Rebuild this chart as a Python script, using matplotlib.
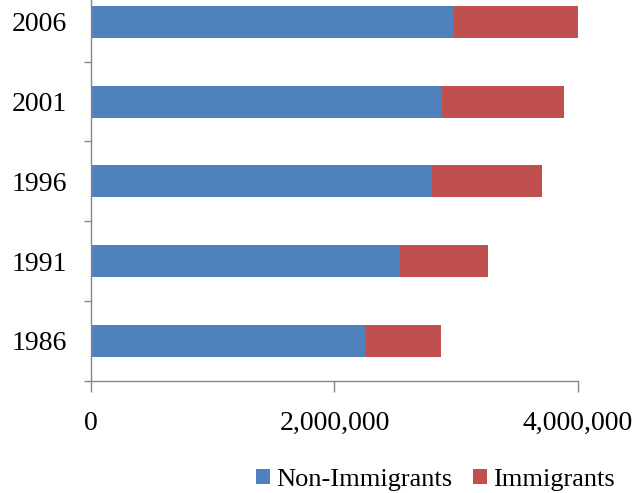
import numpy as np
import matplotlib
matplotlib.use("Agg")
from matplotlib import pyplot as plt

years = ["1986", "1991", "1996", "2001", "2006"]
non_immigrants = [2250000, 2540000, 2800000, 2887000, 2980000]
immigrants = [624000, 722000, 905000, 1000000, 1020000]

blue = "#4F81BD"
red = "#C0504D"
axis_grey = "#868686"

plt.rcParams["font.family"] = ["Liberation Serif", "DejaVu Serif"]

fig = plt.figure(figsize=(6.35, 4.93), dpi=100)
ax = fig.add_axes([0.1433, 0.2278, 0.7669, 0.8087])

pos = np.arange(len(years))
ax.barh(pos, non_immigrants, height=0.4, color=blue, label="Non-Immigrants")
ax.barh(pos, immigrants, left=non_immigrants, height=0.4, color=red,
        label="Immigrants")

ax.set_xlim(0, 4000000)
ax.set_ylim(-0.5, len(years) - 0.5)

ax.set_xticks([0, 2000000, 4000000])
ax.set_xticklabels(["0", "2,000,000", "4,000,000"])
ax.set_yticks(pos)
ax.set_yticklabels(years)
ax.set_yticks(np.arange(-0.5, len(years) - 0.5, 1.0), minor=True)

ax.tick_params(axis="x", direction="out", length=8, width=1, color=axis_grey,
               labelsize=20, pad=14)
ax.tick_params(axis="y", which="major", length=0, labelsize=20, pad=17)
ax.tick_params(axis="y", which="minor", direction="out", length=5, width=1,
               color=axis_grey)

for side in ("top", "right"):
    ax.spines[side].set_visible(False)
for side in ("left", "bottom"):
    ax.spines[side].set_color(axis_grey)
    ax.spines[side].set_linewidth(1)

fig.legend(loc="center", bbox_to_anchor=(0.686, 0.027), ncol=2, frameon=False,
           fontsize=19, handlelength=0.5, handleheight=0.5, handletextpad=0.25,
           columnspacing=0.8, borderaxespad=0)

fig.savefig("out.png", dpi=100)
